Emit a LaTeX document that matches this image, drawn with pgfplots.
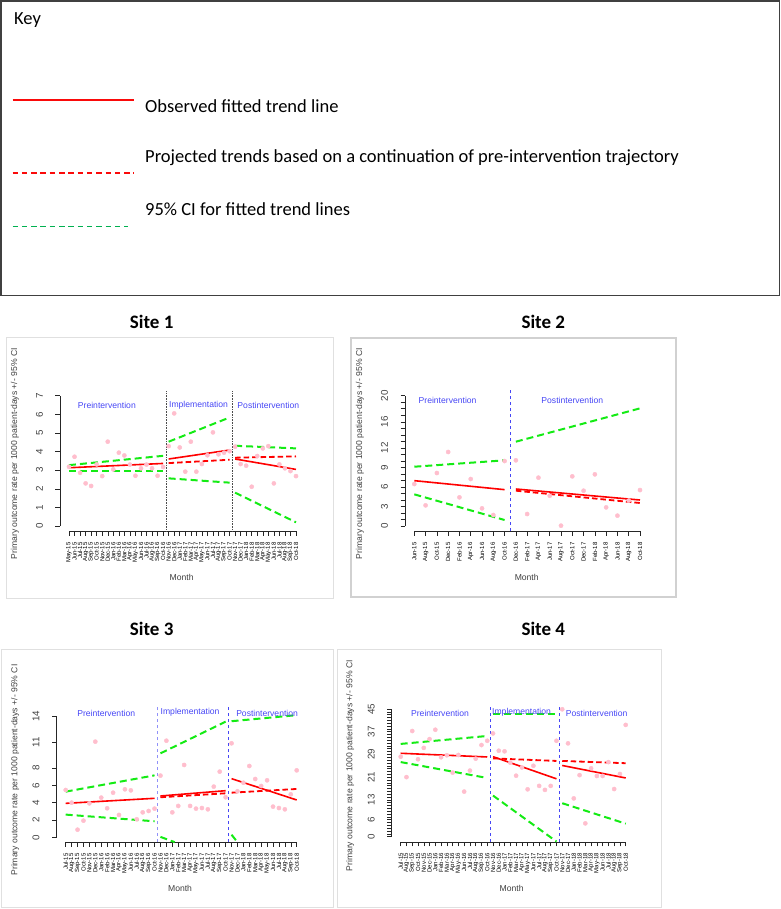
\documentclass[border=0pt]{standalone}
\usepackage{fontspec}
\setmainfont{Liberation Sans}
\newfontfamily\calibri{Carlito}
\usepackage{pgfplots}
\pgfplotsset{compat=1.18}
\definecolor{rred}{RGB}{255,0,0}
\definecolor{rgreen}{RGB}{20,235,20}
\definecolor{rpink}{RGB}{255,190,205}
\definecolor{rblue}{RGB}{70,70,245}
\definecolor{xlgreen}{RGB}{0,176,80}
\definecolor{keyred}{RGB}{250,10,10}

\pgfplotsset{
  rplot/.style={scale only axis, anchor=south west, clip=false,
    axis x line*=bottom, axis y line*=left,
    axis line style={black!85, line width=0.5pt},
    tick align=outside, major tick length=4.5pt, minor tick length=4.5pt,
    every tick/.style={black!85, line width=0.5pt},
    xticklabel style={yshift=-6pt, rotate=90, anchor=east, font=\fontsize{6}{6}\selectfont, inner sep=0.5pt, text=black},
    yticklabel style={xshift=-9pt, rotate=90, anchor=south, font=\fontsize{9.8}{11}\selectfont, text=black!75},
    /pgf/number format/assume math mode=true,
    xlabel style={font=\fontsize{8.6}{10}\selectfont, text=black!75, anchor=center},
    ylabel style={font=\fontsize{8.6}{10}\selectfont, text=black!75, anchor=center},
    xlabel=Month, ylabel={Primary outcome rate per 1000 patient-days +/- 95\% CI},
  },
  pts/.style={only marks, mark=*, mark size=2.1pt, mark options={draw=rpink, fill=rpink}},
  obs/.style={rred, line width=1.6pt, no marks},
  proj/.style={rred, line width=1.8pt, dash pattern=on 5.5pt off 3pt, no marks},
  ci/.style={rgreen, line width=2pt, dash pattern=on 7pt off 4pt, no marks},
}
\tikzset{phase/.style={text=rblue, font=\fontsize{8.6}{10}\selectfont}}

\begin{document}
\begin{tikzpicture}
\useasboundingbox (0,0) rectangle (780pt,-909pt);

% key
\draw[black!75, line width=1.5pt] (0.75pt,-1pt) rectangle (779.25pt,-295.5pt);
\node[font=\calibri\fontsize{18.5}{22}\selectfont, anchor=west, inner sep=0pt] at (14pt,-20pt) {Key};
\draw[keyred, line width=2.8pt] (12.5pt,-100pt) -- (133.5pt,-100pt);
\draw[keyred, line width=2pt, dash pattern=on 5.5pt off 3.8pt] (12.5pt,-173.5pt) -- (133.5pt,-173.5pt);
\draw[xlgreen, line width=1.5pt, dash pattern=on 5.5pt off 3.8pt] (12.5pt,-226.3pt) -- (128pt,-226.3pt);
\begin{scope}[every node/.style={font=\calibri\fontsize{18.5}{22}\selectfont, anchor=west, inner sep=0pt}]
\node at (145pt,-106pt) {Observed fitted trend line};
\node at (145pt,-157.5pt) {Projected trends based on a continuation of pre-intervention trajectory};
\node at (145pt,-209pt) {95\% CI for fitted trend lines};
\end{scope}

% titles and panel frames
\begin{scope}[every node/.style={font=\calibri\bfseries\fontsize{19}{22}\selectfont}]
\node at (151.7pt,-321.7pt) {Site 1};
\node at (543.3pt,-321.7pt) {Site 2};
\node at (151.7pt,-629pt) {Site 3};
\node at (543.3pt,-629pt) {Site 4};
\end{scope}
\draw[black!12, line width=1pt] (6pt,-337pt) rectangle (333pt,-598pt);
\draw[black!18, line width=2.5pt] (351pt,-338pt) rectangle (676pt,-597pt);
\draw[black!12, line width=1pt] (1.7pt,-649.3pt) rectangle (333.3pt,-907.7pt);
\draw[black!12, line width=1pt] (337.7pt,-649.3pt) rectangle (661pt,-907.7pt);

% Site 1
\begin{axis}[rplot, at={(69pt,-526pt)}, width=227pt, height=130.3pt,
  xmin=0, xmax=41, ymin=0, ymax=7,
  axis x line shift=5.2pt, axis y line shift=9.1pt,
  xtick={0,...,41}, ytick={0,...,7},
  xticklabels={May-15,Jun-15,Jul-15,Aug-15,Sep-15,Oct-15,Nov-15,Dec-15,
    Jan-16,Feb-16,Mar-16,Apr-16,May-16,Jun-16,Jul-16,Aug-16,Sep-16,Oct-16,Nov-16,Dec-16,
    Jan-17,Feb-17,Mar-17,Apr-17,May-17,Jun-17,Jul-17,Aug-17,Sep-17,Oct-17,Nov-17,Dec-17,
    Jan-18,Feb-18,Mar-18,Apr-18,May-18,Jun-18,Jul-18,Aug-18,Sep-18,Oct-18},
  xlabel style={at={(axis description cs:0.496,-0.397)}},
  ylabel style={at={(axis description cs:-0.238,0.555)}},
]
\addplot[pts] coordinates {(0,3.18)(1,3.72)(2,2.86)(3,2.29)(4,2.15)(5,3.31)(6,2.68)(7,4.53)(8,3.04)(9,3.94)(10,3.79)(11,3.3)(12,2.70)(13,3.10)(14,3.3)(15,3.10)(16,2.70)(17,3.17)
 (18,4.29)(19,6.05)(20,4.22)(21,2.92)(22,4.53)(23,2.92)(24,3.33)(25,3.8)(26,5.03)(27,3.85)(28,3.94)(29,4.02)
 (30,4.26)(31,3.33)(32,3.24)(33,2.11)(34,3.76)(35,4.17)(36,4.29)(37,2.29)(38,3.31)(39,3.1)(40,2.95)(41,2.68)};
\addplot[black!70, densely dotted, line width=0.6pt] coordinates {(17.5,-0.28)(17.5,7.28)};
\addplot[black!70, densely dotted, line width=0.6pt] coordinates {(29.5,-0.28)(29.5,7.28)};
\addplot[ci] coordinates {(0,3.27)(17,3.77)};
\addplot[ci] coordinates {(0,2.95)(17,2.95)};
\addplot[obs] coordinates {(0,3.13)(17,3.36)};
\addplot[ci] coordinates {(18,4.53)(29,5.83)};
\addplot[ci] coordinates {(18,2.56)(29,2.33)};
\addplot[proj] coordinates {(18,3.38)(29,3.56)};
\addplot[obs] coordinates {(18,3.6)(29,4.08)};
\addplot[ci] coordinates {(30,4.31)(41,4.17)};
\addplot[ci] coordinates {(30,1.79)(41,0.2)};
\addplot[proj] coordinates {(30,3.67)(41,3.74)};
\addplot[obs] coordinates {(30,3.6)(41,3.04)};
\node[phase] at (axis cs:6.84,6.47) {Preintervention};
\node[phase] at (axis cs:23.4,6.47) {Implementation};
\node[phase] at (axis cs:36.0,6.47) {Postintervention};
\end{axis}

% Site 2
\begin{axis}[rplot, at={(414.3pt,-526pt)}, width=225.7pt, height=130.3pt,
  xmin=0, xmax=20, ymin=0, ymax=20,
  axis x line shift=5.2pt, axis y line shift=9.3pt,
  xtick={0,...,20}, ytick={0,...,20},
  yticklabels={0,,,3,,,6,,,9,,,12,,,,16,,,,20},
  xticklabels={Jun-15,Aug-15,Oct-15,Dec-15,Feb-16,Apr-16,Jun-16,Aug-16,Oct-16,Dec-16,
    Feb-17,Apr-17,Jun-17,Aug-17,Oct-17,Dec-17,Feb-18,Apr-18,Jun-18,Aug-18,Oct-18},
  xlabel style={at={(axis description cs:0.498,-0.397)}},
  ylabel style={at={(axis description cs:-0.241,0.555)}},
]
\addplot[pts] coordinates {(0,6.44)(1,3.17)(2,8.13)(3,11.36)(4,4.40)(5,7.21)(6,2.71)(7,1.69)(8,9.97)
 (9,10.08)(10,1.84)(11,7.42)(12,4.65)(13,0.05)(14,7.62)(15,5.42)(16,7.93)(17,2.86)(18,1.59)(19,3.9)(20,5.52)};
\addplot[rblue, dashed, line width=0.6pt] coordinates {(8.5,-0.8)(8.5,20.8)};
\addplot[ci] coordinates {(0,9.1)(8,10.08)};
\addplot[ci] coordinates {(0,4.86)(8,0.92)};
\addplot[obs] coordinates {(0,6.96)(8,5.58)};
\addplot[ci] coordinates {(9,12.94)(20,18.06)};
\addplot[proj] coordinates {(9,5.42)(20,3.53)};
\addplot[obs] coordinates {(9,5.68)(20,3.99)};
\node[phase] at (axis cs:2.95,19.28) {Preintervention};
\node[phase] at (axis cs:14.0,19.28) {Postintervention};
\end{axis}

% Site 3
\begin{axis}[rplot, at={(65.7pt,-837.3pt)}, width=231pt, height=121.3pt,
  xmin=0, xmax=39, ymin=0, ymax=14,
  axis x line shift=4.9pt, axis y line shift=9.2pt,
  xtick={0,...,39}, ytick={0,2,4,6,8,11,14},
  xticklabels={Jul-15,Aug-15,Sep-15,Oct-15,Nov-15,Dec-15,
    Jan-16,Feb-16,Mar-16,Apr-16,May-16,Jun-16,Jul-16,Aug-16,Sep-16,Oct-16,Nov-16,Dec-16,
    Jan-17,Feb-17,Mar-17,Apr-17,May-17,Jun-17,Jul-17,Aug-17,Sep-17,Oct-17,Nov-17,Dec-17,
    Jan-18,Feb-18,Mar-18,Apr-18,May-18,Jun-18,Jul-18,Aug-18,Sep-18,Oct-18},
  xlabel style={at={(axis description cs:0.495,-0.42)}},
  ylabel style={at={(axis description cs:-0.219,0.555)}},
]
\addplot[pts] coordinates {(0,5.46)(1,4.0)(2,0.88)(3,1.92)(4,3.92)(5,11.04)(6,4.58)(7,3.35)(8,5.15)(9,2.58)(10,5.54)(11,5.42)(12,2.08)(13,2.88)(14,3.04)(15,3.31)
 (16,7.12)(17,11.15)(18,2.88)(19,3.62)(20,8.35)(21,3.62)(22,3.31)(23,3.38)(24,3.23)(25,5.85)(26,7.58)(27,4.62)
 (28,10.85)(29,5.31)(30,6.3)(31,8.23)(32,6.73)(33,5.92)(34,6.58)(35,3.54)(36,3.38)(37,3.23)(38,4.96)(39,7.73)};
\addplot[rblue!60, dashed, line width=1.2pt] coordinates {(15.5,-0.56)(15.5,15.3)};
\addplot[rblue, dashed, line width=0.7pt] coordinates {(27.5,-0.56)(27.5,15.3)};
\addplot[ci] coordinates {(0,5.27)(15,7.15)};
\addplot[ci] coordinates {(0,2.62)(15,1.85)};
\addplot[obs] coordinates {(0,3.92)(15,4.5)};
\addplot[ci] coordinates {(16,9.69)(27,13.35)};
\addplot[ci] coordinates {(16,0.05)(18.4,-0.56)};
\addplot[proj] coordinates {(16,4.62)(27,5.08)};
\addplot[obs] coordinates {(16,4.77)(27,5.38)};
\addplot[ci] coordinates {(28,13.4)(39,14.1)};
\addplot[ci] coordinates {(28,0.3)(29,-0.56)};
\addplot[proj] coordinates {(28,5.15)(39,5.58)};
\addplot[obs] coordinates {(28,6.77)(39,4.31)};
\node[phase] at (axis cs:6.84,14.3) {Preintervention};
\node[phase] at (axis cs:21.0,14.42) {Implementation};
\node[phase] at (axis cs:34.0,14.3) {Postintervention};
\end{axis}

% Site 4
\begin{axis}[rplot, at={(400.7pt,-836.7pt)}, width=225pt, height=127.7pt,
  xmin=0, xmax=39, ymin=0, ymax=45,
  axis x line shift=5.1pt, axis y line shift=9pt,
  xtick={0,...,39}, ytick={0,...,45},
  yticklabels={0,,,,,,6,,,,,,,13,,,,,,,,21,,,,,,,,29,,,,,,,,37,,,,,,,,45},
  xticklabels={Jul-15,Aug-15,Sep-15,Oct-15,Nov-15,Dec-15,
    Jan-16,Feb-16,Mar-16,Apr-16,May-16,Jun-16,Jul-16,Aug-16,Sep-16,Oct-16,Nov-16,Dec-16,
    Jan-17,Feb-17,Mar-17,Apr-17,May-17,Jun-17,Jul-17,Aug-17,Sep-17,Oct-17,Nov-17,Dec-17,
    Jan-18,Feb-18,Mar-18,Apr-18,May-18,Jun-18,Jul-18,Aug-18,Sep-18,Oct-18},
  xlabel style={at={(axis description cs:0.493,-0.404)}},
  ylabel style={at={(axis description cs:-0.225,0.555)}},
]
\addplot[pts] coordinates {(0,28.2)(1,21.0)(2,37.25)(3,27.3)(4,31.3)(5,34.4)(6,37.7)(7,28.0)(8,28.7)(9,22.6)(10,28.8)(11,15.9)(12,23.3)(13,27.5)(14,32.3)(15,33.8)
 (16,36.4)(17,30.3)(18,30.1)(19,26.1)(20,21.5)(21,24.4)(22,16.7)(23,25.0)(24,17.9)(25,16.5)(26,17.9)(27,33.8)
 (28,44.9)(29,32.9)(30,13.5)(31,21.7)(32,4.7)(33,24.1)(34,21.4)(35,21.4)(36,26.3)(37,16.8)(38,22.1)(39,39.4)};
\addplot[rblue, dashed, line width=0.9pt] coordinates {(15.5,-1.8)(15.5,46.6)};
\addplot[rblue, dashed, line width=0.9pt] coordinates {(27.5,-1.8)(27.5,46.6)};
\addplot[ci] coordinates {(0,32.7)(15,35.5)};
\addplot[ci] coordinates {(0,26.3)(15,20.7)};
\addplot[obs] coordinates {(0,29.4)(15,28.1)};
\addplot[ci] coordinates {(16,43.2)(27,43.2)};
\addplot[ci] coordinates {(16,14.5)(27,-1.7)};
\addplot[proj] coordinates {(16,27.6)(27,26.7)};
\addplot[obs] coordinates {(16,28.2)(27,20.4)};
\addplot[ci] coordinates {(28,11.8)(39,4.6)};
\addplot[proj] coordinates {(28,26.7)(39,25.9)};
\addplot[obs] coordinates {(28,25.1)(39,20.7)};
\node[phase] at (axis cs:6.82,43.5) {Preintervention};
\node[phase] at (axis cs:20.95,43.8) {Implementation};
\node[phase] at (axis cs:33.96,43.5) {Postintervention};
\end{axis}
\end{tikzpicture}
\end{document}
